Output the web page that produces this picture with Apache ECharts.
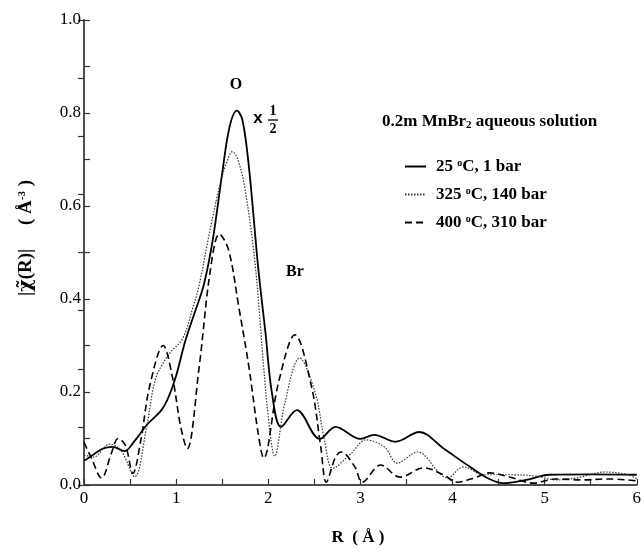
<!DOCTYPE html>
<html>
<head>
<meta charset="utf-8">
<script src="https://cdn.jsdelivr.net/npm/echarts@6/dist/echarts.min.js"></script>
<style>
  html, body { margin: 0; padding: 0; background: #fff; }
  #fourier { width: 644px; height: 558px; }
</style>
</head>
<body>
<div id="fourier"></div>
<script>
// |chi(R)| magnitude vs R (Angstrom); 25 C curve is already x 1/2
var ambient25 = [
  [0, 0.052], [0.1, 0.065], [0.2, 0.078], [0.31, 0.082], [0.44, 0.073], [0.55, 0.095],
  [0.68, 0.129], [0.84, 0.161], [0.92, 0.19], [1.0, 0.235], [1.1, 0.31], [1.2, 0.37],
  [1.3, 0.43], [1.4, 0.53], [1.5, 0.67], [1.58, 0.77], [1.66, 0.805], [1.72, 0.785],
  [1.79, 0.684], [1.89, 0.469], [1.97, 0.327], [2.04, 0.198], [2.14, 0.125], [2.31, 0.161],
  [2.56, 0.099], [2.73, 0.125], [3.0, 0.099], [3.15, 0.108], [3.38, 0.093], [3.64, 0.114],
  [3.9, 0.079], [4.19, 0.039], [4.4, 0.013], [4.55, 0.004], [4.8, 0.011], [5.05, 0.022],
  [5.5, 0.023], [6, 0.022]
];
var hot325 = [
  [0, 0.065], [0.1, 0.06], [0.28, 0.088], [0.4, 0.075], [0.55, 0.018], [0.68, 0.125],
  [0.78, 0.23], [0.93, 0.283], [1.07, 0.315], [1.18, 0.38], [1.25, 0.43], [1.36, 0.54],
  [1.48, 0.65], [1.56, 0.70], [1.61, 0.717], [1.67, 0.70], [1.75, 0.634], [1.86, 0.47],
  [1.95, 0.254], [2.0, 0.147], [2.07, 0.062], [2.18, 0.176], [2.34, 0.273], [2.51, 0.198],
  [2.61, 0.097], [2.70, 0.036], [2.9, 0.068], [3.06, 0.097], [3.26, 0.082], [3.40, 0.047],
  [3.62, 0.071], [3.86, 0.025], [3.94, 0.015], [4.12, 0.039], [4.34, 0.022], [4.62, 0.022],
  [4.91, 0.019], [5.12, 0.011], [5.34, 0.015], [5.66, 0.028], [5.91, 0.022], [6, 0.013]
];
var super400 = [
  [0, 0.092], [0.08, 0.058], [0.19, 0.015], [0.3, 0.07], [0.37, 0.10], [0.45, 0.085],
  [0.53, 0.025], [0.62, 0.1], [0.71, 0.21], [0.86, 0.30], [0.96, 0.232], [1.05, 0.125],
  [1.12, 0.078], [1.25, 0.254], [1.37, 0.46], [1.47, 0.54], [1.57, 0.505], [1.68, 0.383],
  [1.79, 0.254], [1.89, 0.112], [1.95, 0.058], [2.11, 0.219], [2.29, 0.323], [2.47, 0.211],
  [2.57, 0.082], [2.63, 0.006], [2.73, 0.06], [2.79, 0.071], [2.94, 0.039], [3.02, 0.006],
  [3.22, 0.043], [3.43, 0.017], [3.69, 0.037], [3.9, 0.022], [4.05, 0.006], [4.26, 0.017],
  [4.4, 0.026], [4.62, 0.017], [4.88, 0.004], [5.12, 0.013], [5.41, 0.011], [5.69, 0.013],
  [6, 0.009]
];
var seriesNames = ['25 °C, 1 bar', '325 °C, 140 bar', '400 °C, 310 bar'];

var serif = 'Liberation Serif';
var chart = echarts.init(document.getElementById('fourier'));

var tickStyle = { inside: true, length: 6, lineStyle: { color: '#333', width: 1.2 } };
var lineAxis = { lineStyle: { color: '#444', width: 1.5 } };

var option = {
  animation: false,
  grid: { left: 84, right: 3, top: 20, bottom: 73 },
  legend: {
    orient: 'vertical',
    left: 404,
    top: 158,
    padding: 0,
    itemWidth: 21,
    itemHeight: 14,
    itemGap: 11,
    data: seriesNames,
    itemStyle: { opacity: 0 },
    formatter: function (n) { return n.replace('°C', '{sup|o}C'); },
    textStyle: {
      fontFamily: serif, fontWeight: 'bold', fontSize: 17, color: '#000', padding: [0, 0, 0, 5],
      rich: { sup: { fontFamily: serif, fontWeight: 'bold', fontSize: 10, verticalAlign: 'top', padding: [0, 0, 7, 0] } }
    }
  },
  xAxis: [{
    type: 'value', min: 0, max: 6, interval: 1, position: 'bottom',
    axisLine: lineAxis, axisTick: tickStyle,
    minorTick: { show: true, splitNumber: 2, length: 6, lineStyle: { color: '#333', width: 1.2 } },
    splitLine: { show: false },
    axisLabel: { fontFamily: serif, fontSize: 17, color: '#000', margin: 5 }
  }, {
    type: 'value', min: 0, max: 6, position: 'top',
    axisLine: { show: true, lineStyle: { color: '#444', width: 1.5 } },
    axisTick: { show: false }, axisLabel: { show: false }, splitLine: { show: false }
  }],
  yAxis: [{
    type: 'value', min: 0, max: 1, interval: 0.2, position: 'left',
    axisLine: lineAxis, axisTick: tickStyle,
    minorTick: { show: true, splitNumber: 2, length: 6, lineStyle: { color: '#333', width: 1.2 } },
    splitLine: { show: false },
    axisLabel: { fontFamily: serif, fontSize: 17, color: '#000', margin: 3,
      formatter: function (v) { return v.toFixed(1); } }
  }, {
    type: 'value', min: 0, max: 1, interval: 0.125, position: 'right',
    axisLine: { show: true, lineStyle: { color: '#444', width: 1.5 } },
    axisTick: tickStyle, axisLabel: { show: false }, splitLine: { show: false }
  }],
  series: [{
    name: seriesNames[0], type: 'line', data: ambient25, smooth: 0.35, symbol: 'none',
    lineStyle: { color: '#000', width: 1.8, type: 'solid' }, itemStyle: { color: '#000' }
  }, {
    name: seriesNames[1], type: 'line', data: hot325, smooth: 0.35, symbol: 'none',
    lineStyle: { color: '#333', width: 1.2, type: [1.5, 1.5] }, itemStyle: { color: '#333' }
  }, {
    name: seriesNames[2], type: 'line', data: super400, smooth: 0.35, symbol: 'none',
    lineStyle: { color: '#000', width: 1.6, type: [7, 4] }, itemStyle: { color: '#000' }
  }],
  graphic: [
    { type: 'text', x: 236, y: 85, style: { text: 'O', font: 'bold 16px ' + serif, fill: '#000', align: 'center', verticalAlign: 'middle' } },
    { type: 'text', x: 258, y: 118, style: { text: 'x', font: 'bold 17px Liberation Sans', fill: '#000', align: 'center', verticalAlign: 'middle' } },
    { type: 'text', x: 273, y: 111, style: { text: '1', font: 'bold 14px ' + serif, fill: '#000', align: 'center', verticalAlign: 'middle' } },
    { type: 'line', shape: { x1: 268, y1: 120, x2: 278, y2: 120 }, style: { stroke: '#000', lineWidth: 1.3 } },
    { type: 'text', x: 273, y: 129, style: { text: '2', font: 'bold 14px ' + serif, fill: '#000', align: 'center', verticalAlign: 'middle' } },
    { type: 'text', x: 295, y: 272, style: { text: 'Br', font: 'bold 16px ' + serif, fill: '#000', align: 'center', verticalAlign: 'middle' } },
    { type: 'text', x: 382, y: 122, style: {
      text: '0.2m MnBr{sub|2} aqueous solution', font: 'bold 17px ' + serif, fill: '#000', verticalAlign: 'middle',
      rich: { sub: { font: 'bold 11px ' + serif, verticalAlign: 'bottom', padding: [6, 0, 0, 0] } }
    } },
    { type: 'text', x: 26, y: 238, rotation: Math.PI / 2, style: {
      text: '|{chi|χ̃}(R)|     ( Å{sup|-3} )', font: 'bold 19px ' + serif, fill: '#000', align: 'center', verticalAlign: 'middle',
      rich: {
        chi: { font: 'bold 19px DejaVu Serif' },
        sup: { font: 'bold 11px ' + serif, verticalAlign: 'top', padding: [0, 0, 8, 0] }
      }
    } },
    { type: 'text', x: 358, y: 538, style: { text: 'R  ( Å )', font: 'bold 17px ' + serif, fill: '#000', align: 'center', verticalAlign: 'middle' } }
  ]
};

chart.setOption(option);
</script>
</body>
</html>
